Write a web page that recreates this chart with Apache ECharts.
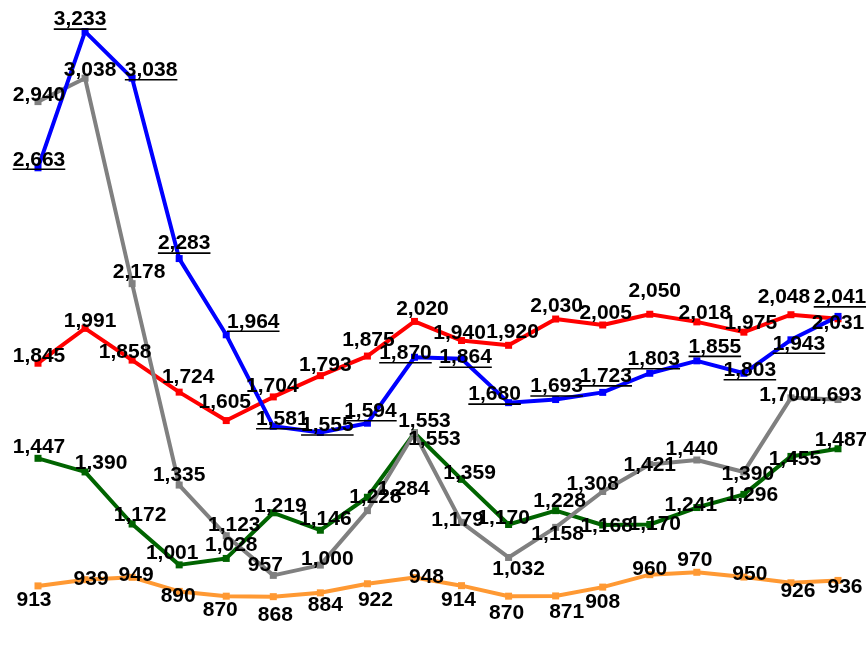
<!DOCTYPE html>
<html>
<head>
<meta charset="utf-8">
<script src="https://cdn.jsdelivr.net/npm/echarts@6/dist/echarts.min.js"></script>
<style>
html,body{margin:0;padding:0;background:#fff;}
#chart{width:866px;height:649px;}
</style>
</head>
<body>
<div id="chart"></div>
<script>
// ---- data ----
const categories = ['1','2','3','4','5','6','7','8','9','10','11','12','13','14','15','16','17','18'];
const redValues    = [1845,1991,1858,1724,1605,1704,1793,1875,2020,1940,1920,2030,2005,2050,2018,1975,2048,2031];
const blueValues   = [2663,3233,3038,2283,1964,1581,1555,1594,1870,1864,1680,1693,1723,1803,1855,1803,1943,2041];
const grayValues   = [2940,3038,2178,1335,1123,957,1000,1228,1553,1179,1032,1158,1308,1421,1440,1390,1700,1693];
const greenValues  = [1447,1390,1172,1001,1028,1219,1146,1284,1553,1359,1170,1228,1168,1170,1241,1296,1455,1487];
const orangeValues = [913,939,949,890,870,868,884,922,948,914,870,871,908,960,970,950,926,936];

// ---- label placement (offset of label centre from the point, px) ----
const redOffsets = [[1,-7],[5,-7],[-7,-8],[9,-15],[-1.5,-18],[-1,-11],[5,-10],[1,-15.5],[8,-12],[-2,-7],[4,-13],[1,-13],[3,-12],[5,-23.5],[8,-9],[7,-9],[-7,-18],[0,4]];
const blueOffsets = [[1,-8],[-5,-12],[19,-8],[5,-15],[27,-13],[9,-7],[7,-7],[3,-12],[-9,-4],[4,-1],[-14,-8],[1,-13],[3,-16],[4,-14],[18,-14],[6,-3],[8,4],[2,-19]];
const grayOffsets = [[1,-6],[5,-8],[7,-11],[0,-10],[8,-11],[-8,-10],[7,-6],[8,-13],[20,6],[-4,-2],[10,12],[2,7],[-10,-7],[0,1],[-5,-11],[4,2],[-5.5,-3],[-2.5,-4]];
const greenOffsets = [[1,-11],[16,-9],[8,-9],[-7,-12],[5,-13],[7,-7],[5,-11],[36,-8],[10,-12],[8,-6],[-5,-6],[4,-9],[4,1.5],[5,0],[-6,-2],[8,1],[4,3],[3,-9]];
const orangeOffsets = [[-4,14],[6,0],[4,-2],[-1,5],[-6,14],[2,19],[5,12],[8,16],[12,0],[-3,15],[-2,17],[11,16],[0,15],[0,-5],[-2,-12],[6,-2.5],[7,8],[7,7]];

const FONT = "'Liberation Sans', Arial, sans-serif";
const FS = 21;
const DY = 0;

function fmt(v){ return v.toLocaleString('en-US'); }

const mc = document.createElement('canvas').getContext('2d');
mc.font = 'bold ' + FS + 'px ' + FONT;
const ulWidth = mc.measureText('0,000').width;

function build(values, offsets, underline){
  return values.map((v,i)=>({
    value: v,
    label: { offset: [offsets[i][0], offsets[i][1] + DY + (underline ? 1 : 0)] }
  }));
}

function mkSeries(name, values, offsets, color, underline){
  const label = {
    show: true,
    position: 'inside',
    color: '#000',
    fontFamily: FONT,
    fontSize: FS,
    fontWeight: 'bold'
  };
  if (underline) {
    label.formatter = p => '{t|' + fmt(p.value) + '}\n{u| }';
    label.rich = {
      t: { fontFamily: FONT, fontSize: FS, fontWeight: 'bold', color: '#000', lineHeight: 17 },
      u: { fontSize: 1, lineHeight: 2, height: 1.6, width: ulWidth, backgroundColor: '#000' }
    };
  } else {
    label.formatter = p => fmt(p.value);
  }
  return {
    name: name,
    type: 'line',
    data: build(values, offsets, underline),
    symbol: 'rect',
    symbolSize: 7,
    showAllSymbol: true,
    lineStyle: { color: color, width: 4 },
    itemStyle: { color: color },
    label: label,
    emphasis: { disabled: true },
    animation: false
  };
}

const chart = echarts.init(document.getElementById('chart'), null, {renderer: 'canvas'});
chart.setOption({
  backgroundColor: '#fff',
  animation: false,
  grid: { left: 38, right: 28, top: 15.6, bottom: 36.1, containLabel: false },
  xAxis: { type: 'category', data: categories, boundaryGap: false, show: false },
  yAxis: { type: 'value', min: 800, max: 3300, show: false, splitLine: { show: false } },
  series: [
    mkSeries('Orange', orangeValues, orangeOffsets, '#FF9933', false),
    mkSeries('Green', greenValues, greenOffsets, '#006400', false),
    mkSeries('Red', redValues, redOffsets, '#FF0000', false),
    mkSeries('Gray', grayValues, grayOffsets, '#808080', false),
    mkSeries('Blue', blueValues, blueOffsets, '#0000FF', true)
  ]
});
</script>
</body>
</html>
